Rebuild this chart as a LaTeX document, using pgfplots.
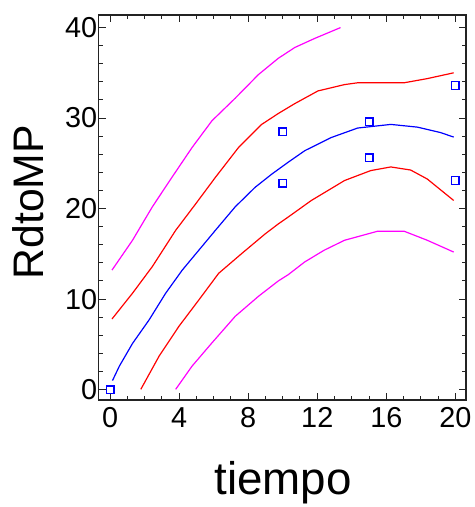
\documentclass[border=0pt]{standalone}
\usepackage{fontspec}
\setmainfont{Liberation Sans}
\usepackage{pgfplots}
\pgfplotsset{compat=1.18}
\definecolor{fitblue}{RGB}{0,0,255}
\definecolor{limred}{RGB}{255,0,0}
\definecolor{limmag}{RGB}{255,0,255}
\definecolor{framegray}{RGB}{35,35,35}

\begin{document}
\begin{tikzpicture}
\path (-99.3pt,-104.3pt) rectangle (376.7pt,402.7pt);
\begin{axis}[
  scale only axis, width=369.7pt, height=387.7pt,
  xmin=-0.66, xmax=20.62, ymin=-1.17, ymax=41.4,
  xtick={0,4,8,12,16,20}, minor x tick num=3,
  ytick={0,10,20,30,40}, minor y tick num=4,
  tick align=inside, major tick length=7pt, minor tick length=4pt,
  axis line style={line width=1.6pt, draw=framegray},
  major tick style={line width=1pt, draw=framegray},
  minor tick style={line width=1pt, draw=framegray},
  /pgf/number format/assume math mode=true,
  tick label style={font=\fontsize{29}{29}\selectfont},
  xticklabel style={yshift=-4pt},
  yticklabel style={xshift=2pt},
  xlabel={tiempo}, ylabel={RdtoMP},
  xlabel style={font=\fontsize{46}{46}\selectfont, at={(axis description cs:0.502,-0.244)}, anchor=base},
  ylabel style={font=\fontsize{43}{43}\selectfont, at={(axis description cs:-0.1515,0.514)}, anchor=base, rotate=0},
]
% prediction limits
\addplot[limmag, line width=1.2pt] coordinates {
(0.11,13.2)(1.30,16.5)(2.45,20.2)(3.6,23.5)(4.75,26.75)(5.9,29.7)(7.25,32.2)(8.59,34.8)(9.74,36.6)(10.7,37.8)(11.85,38.8)(13.35,40.0)};
\addplot[limmag, line width=1.2pt] coordinates {
(3.8,0.03)(4.75,2.6)(5.9,5.16)(7.25,8.1)(8.59,10.3)(9.74,12.0)(10.32,12.7)(11.27,14.1)(12.4,15.4)(13.58,16.5)(15.5,17.5)(17.03,17.5)(18.37,16.5)(19.9,15.2)};
% confidence limits
\addplot[limred, line width=1.2pt] coordinates {
(0.11,7.8)(1.30,10.65)(2.45,13.6)(3.8,17.6)(4.95,20.5)(6.1,23.45)(7.44,26.75)(8.78,29.3)(9.74,30.5)(10.7,31.6)(12.04,33.0)(13.58,33.7)(14.34,33.9)(17.03,33.9)(18.37,34.36)(19.9,35.0)};
\addplot[limred, line width=1.2pt] coordinates {
(1.78,0.03)(2.84,3.7)(3.99,7.0)(5.14,9.9)(6.29,12.85)(7.63,15.04)(8.98,17.2)(9.74,18.3)(10.32,19.07)(11.66,20.9)(13.58,23.1)(15.1,24.2)(16.26,24.6)(17.41,24.26)(18.37,23.27)(19.9,20.9)};
% fitted model
\addplot[fitblue, line width=1.2pt] coordinates {
(0.14,1.0)(0.54,2.6)(1.30,5.1)(2.26,7.7)(3.22,10.65)(4.18,13.2)(5.14,15.4)(6.1,17.6)(7.25,20.2)(8.4,22.35)(9.36,23.8)(10.3,25.1)(11.28,26.4)(12.81,27.85)(14.34,28.9)(16.26,29.3)(17.8,29.0)(19.14,28.4)(19.9,27.9)};
% observations
\addplot[only marks, mark=square, mark size=3.8pt, fitblue, mark options={line width=1.4pt}] coordinates {
(0,0)(10,28.5)(10,22.8)(15,29.6)(15,25.6)(20,33.6)(20,23.1)};
\end{axis}
\end{tikzpicture}
\end{document}
